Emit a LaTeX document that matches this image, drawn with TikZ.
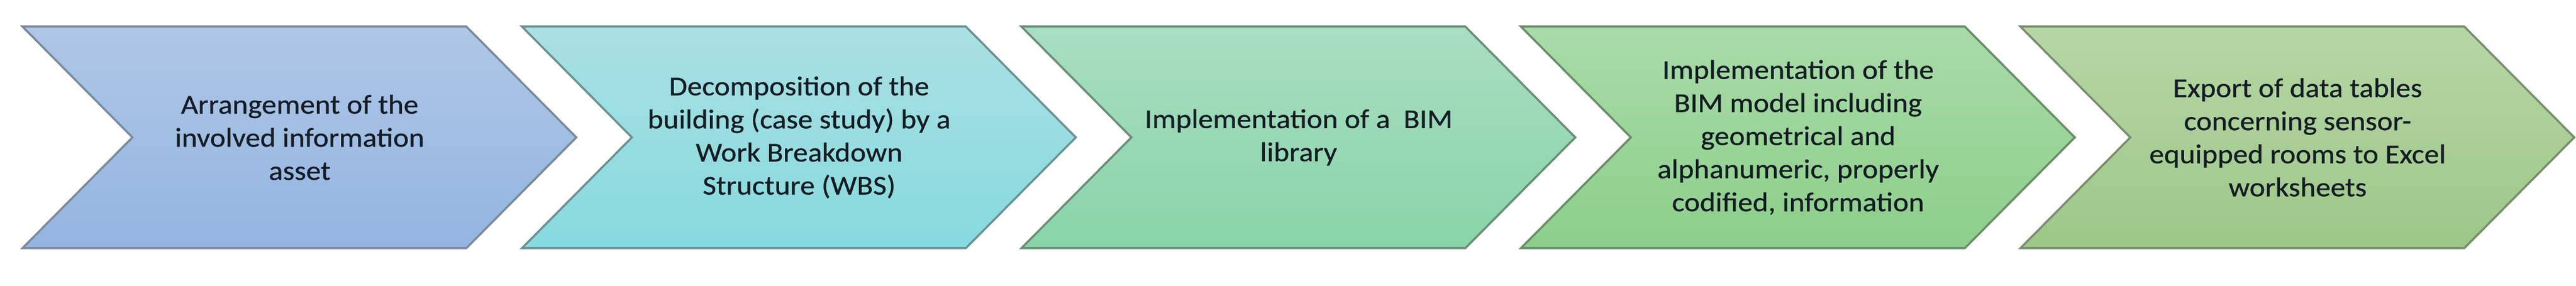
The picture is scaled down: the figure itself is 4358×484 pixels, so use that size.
\documentclass[tikz,border=0pt]{standalone}
\usepackage{fontspec}
\setmainfont{Carlito}[FakeStretch=1.09,FakeBold=0.6]
\definecolor{txt}{HTML}{141C24}
\definecolor{aT}{HTML}{AFC7E7}\definecolor{aB}{HTML}{93B5E0}\definecolor{aD}{HTML}{7A8A9C}
\definecolor{bT}{HTML}{AAE0E3}\definecolor{bB}{HTML}{86DADE}\definecolor{bD}{HTML}{6C9192}
\definecolor{cT}{HTML}{A9DEC2}\definecolor{cB}{HTML}{88D4A8}\definecolor{cD}{HTML}{6A8E78}
\definecolor{dT}{HTML}{A9DBA9}\definecolor{dB}{HTML}{8CCF89}\definecolor{dD}{HTML}{6A8D69}
\definecolor{eT}{HTML}{B6D7A5}\definecolor{eB}{HTML}{9DC789}\definecolor{eD}{HTML}{788E6E}
\tikzset{
  chev/.style={line width=3.5pt, line join=miter},
  lbl/.style={align=center, text=txt, font=\fontsize{46}{56}\selectfont, inner sep=0pt}
}
\begin{document}
\begin{tikzpicture}[x=1pt,y=1pt]
\useasboundingbox (0,0) rectangle (4358,484);
% chevron 1
\path[chev, draw=aD, top color=aT, bottom color=aB]
  (38,439) -- (789,439) -- (975,251.5) -- (789,64) -- (38,64) -- (224,251.5) -- cycle;
\node[lbl] (s1) at (507,251.5) {Arrangement of the\\involved information\\asset};
% chevron 2
\path[chev, draw=bD, top color=bT, bottom color=bB]
  (883,439) -- (1634,439) -- (1820,251.5) -- (1634,64) -- (883,64) -- (1069,251.5) -- cycle;
\node[lbl] (s2) at (1352,251.5) {Decomposition of the\\building (case study) by a\\Work Breakdown\\Structure (WBS)};
% chevron 3
\path[chev, draw=cD, top color=cT, bottom color=cB]
  (1728,439) -- (2479,439) -- (2665,251.5) -- (2479,64) -- (1728,64) -- (1914,251.5) -- cycle;
\node[lbl] (s3) at (2197,251.5) {Implementation of a\ \ BIM\\library};
% chevron 4
\path[chev, draw=dD, top color=dT, bottom color=dB]
  (2573,439) -- (3324,439) -- (3510,251.5) -- (3324,64) -- (2573,64) -- (2759,251.5) -- cycle;
\node[lbl] (s4) at (3042,251.5) {Implementation of the\\BIM model including\\geometrical and\\alphanumeric, properly\\codified, information};
% chevron 5
\path[chev, draw=eD, top color=eT, bottom color=eB]
  (3418,439) -- (4169,439) -- (4355,251.5) -- (4169,64) -- (3418,64) -- (3604,251.5) -- cycle;
\node[lbl] (s5) at (3887,251.5) {Export of data tables\\concerning sensor-\\equipped rooms to Excel\\worksheets};
\end{tikzpicture}
\end{document}
